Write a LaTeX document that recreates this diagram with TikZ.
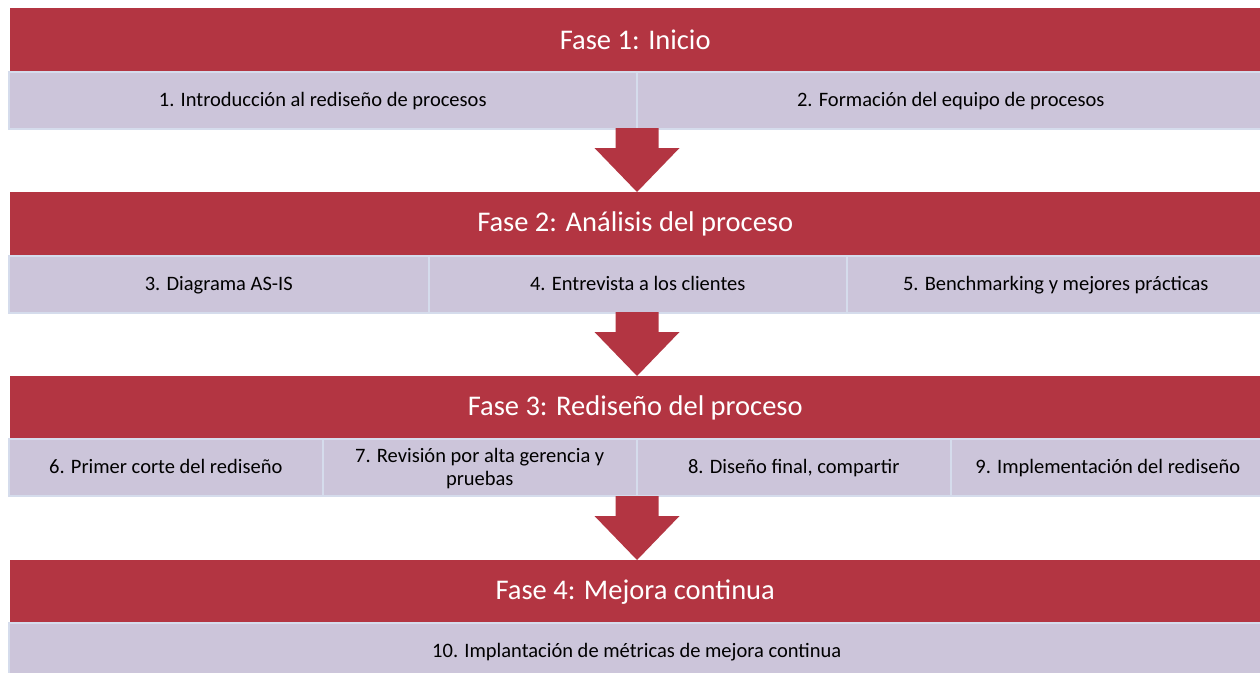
\documentclass[tikz,border=0pt]{standalone}
\usepackage{fontspec}
\setmainfont{Carlito}
\definecolor{faseRed}{RGB}{179,53,66}
\definecolor{pasoLila}{RGB}{204,197,218}
\definecolor{pasoLine}{RGB}{213,220,236}
\begin{document}
\begin{tikzpicture}[
        x=1pt, y=-1pt,
        fase/.style={fill=faseRed, text=white, anchor=north west, inner sep=0pt,
            minimum width=1250pt, minimum height=63pt, font=\fontsize{28.5}{34}\selectfont},
        paso/.style={fill=pasoLila, draw=pasoLine, line width=1.5pt, anchor=north west,
            inner sep=0pt, minimum height=57pt, align=center, text height=13pt, text depth=0pt,
            font=\fontsize{20.5}{23}\selectfont},
        flecha/.pic={\fill[faseRed] (-21.5,0) -- (21.5,0) -- (21.5,20) -- (42.5,20)
            -- (0,64) -- (-42.5,20) -- (-21.5,20) -- cycle;},
    ]
    \clip (0,0) rectangle (1260,672);
    % Fase 1
    \node[fase](f1) at (10,8) {Fase 1: Inicio};
    \node[paso, minimum width=628pt](p1) at (8,71) {1. Introducción al rediseño de procesos};
    \node[paso, minimum width=628pt](p2) at (636,71) {2. Formación del equipo de procesos};
    \pic at (637,128) {flecha};
    % Fase 2
    \node[fase](f2) at (10,192) {Fase 2: Análisis del proceso};
    \node[paso, minimum width=420pt](p3) at (8,255) {3. Diagrama AS-IS};
    \node[paso, minimum width=418pt](p4) at (428,255) {4. Entrevista a los clientes};
    \node[paso, minimum width=418pt](p5) at (846,255) {5. Benchmarking y mejores prácticas};
    \pic at (637,312) {flecha};
    % Fase 3
    \node[fase](f3) at (10,376) {Fase 3: Rediseño del proceso};
    \node[paso, minimum width=314pt](p6) at (8,438) {6. Primer corte del rediseño};
    \node[paso, minimum width=314pt, text height=36pt](p7) at (322,438) {7. Revisión por alta gerencia y\\pruebas};
    \node[paso, minimum width=314pt](p8) at (636,438) {8. Diseño final, compartir};
    \node[paso, minimum width=314pt](p9) at (950,438) {9. Implementación del rediseño};
    \pic at (637,496) {flecha};
    % Fase 4
    \node[fase](f4) at (10,560) {Fase 4: Mejora continua};
    \node[paso, minimum width=1256pt](p10) at (8,622) {10. Implantación de métricas de mejora continua};
\end{tikzpicture}
\end{document}
